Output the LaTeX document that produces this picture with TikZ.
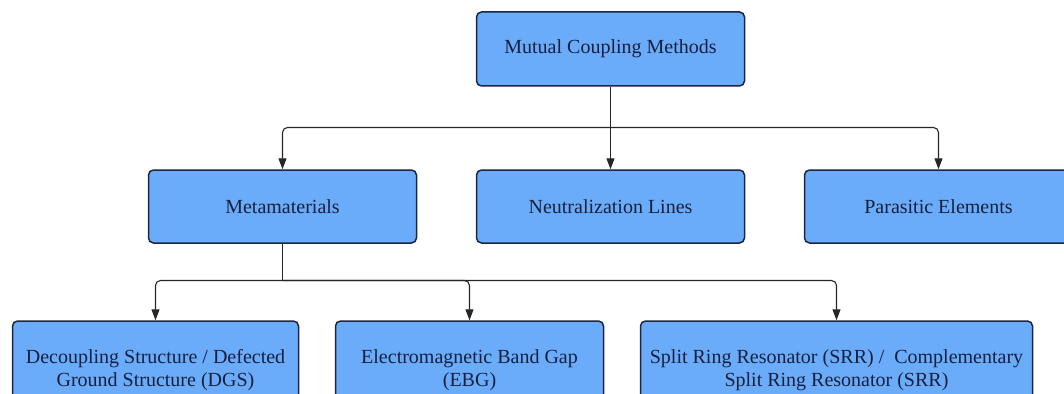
\documentclass[tikz,border=0pt]{standalone}
\usepackage{fontspec}
\setmainfont{Liberation Serif}
\usetikzlibrary{arrows.meta}
\usepackage{xcolor}
\definecolor{boxblue}{RGB}{106,172,250}
\definecolor{boxline}{RGB}{28,38,64}
\definecolor{boxtext}{RGB}{22,32,62}

\begin{document}
\begin{tikzpicture}[x=1pt,y=-1pt,>={Triangle[length=11pt,width=8pt]},
  box/.style={draw=boxline,line width=1.5pt,rounded corners=5pt,fill=boxblue,text=boxtext,
    font=\fontsize{20}{23}\selectfont,align=center,inner sep=0pt,
    minimum width=268pt,minimum height=73pt},
  link/.style={line width=1.1pt,draw=black!85,rounded corners=5pt}]
\clip (0,0) rectangle (1064,393);
% levels
\node[box,minimum height=74pt] (top) at (610.5,49) {Mutual Coupling Methods};
\node[box] (meta) at (282.5,206.5) {Metamaterials};
\node[box] (neut) at (610.5,206.5) {Neutralization Lines};
\node[box] (para) at (938.5,206.5) {Parasitic Elements};
\node[box,minimum width=286pt,minimum height=98pt] (dgs) at (155.5,370) {Decoupling Structure / Defected\\Ground Structure (DGS)};
\node[box,minimum height=98pt] (ebg) at (469.5,370) {Electromagnetic Band Gap\\(EBG)};
\node[box,minimum width=392pt,minimum height=98pt] (srr) at (836.5,370) {Split Ring Resonator (SRR) /\ \ Complementary\\Split Ring Resonator (SRR)};
% first split
\coordinate (fork1) at (610.5,127.5);
\draw[link,->] (top) -- (neut);
\draw[link,->] (fork1) -| (meta);
\draw[link,->] (fork1) -| (para);
% second split
\coordinate (fork2) at (282.5,280.5);
\draw[link] (meta) -- (fork2);
\draw[link,->] (fork2) -| (dgs);
\draw[link,->] (fork2) -| (ebg);
\draw[link,->] (fork2) -| (srr);
\end{tikzpicture}
\end{document}
